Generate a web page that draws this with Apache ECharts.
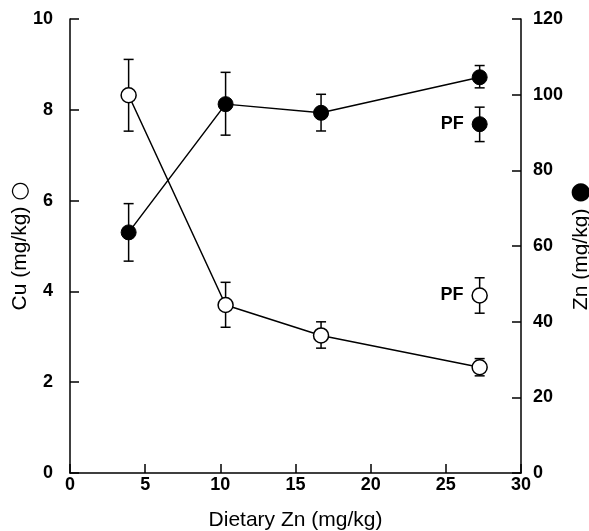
<!DOCTYPE html>
<html><head><meta charset="utf-8">
<script src="https://cdn.jsdelivr.net/npm/echarts@6/dist/echarts.min.js"></script>
<style>html,body{margin:0;padding:0;background:#fff}#c{width:589px;height:531px}</style>
</head><body><div id="c"></div>
<script>
// Data
var doseX = [3.9, 10.35, 16.7, 27.25];
var cuMean = [8.32, 3.70, 3.03, 2.33];
var cuLow = [7.53, 3.21, 2.75, 2.14];
var cuHigh = [9.11, 4.20, 3.33, 2.52];
var znMean = [63.6, 97.5, 95.2, 104.6];
var znLow = [56.0, 89.3, 90.4, 101.8];
var znHigh = [71.2, 105.9, 100.1, 107.7];
var pfX = [27.25];
var pfCu = [3.91], pfCuLow = [3.52], pfCuHigh = [4.30];
var pfZn = [92.2], pfZnLow = [87.6], pfZnHigh = [96.7];
var xTicks = [0, 5, 10, 15, 20, 25, 30];
var cuTicks = [0, 2, 4, 6, 8, 10];
var znTicks = [0, 20, 40, 60, 80, 100, 120];

var FONT = '"Liberation Sans", Arial, sans-serif';
function pairs(xs, ys){ return xs.map(function(x,i){ return [x, ys[i]]; }); }
function errData(xs, lo, hi){ return xs.map(function(x,i){ return [x, lo[i], hi[i]]; }); }
function errRender(params, api){
  var x = api.value(0);
  var p1 = api.coord([x, api.value(1)]);
  var p2 = api.coord([x, api.value(2)]);
  var w = 5;
  var st = {stroke:'#000', lineWidth:1.5};
  return {type:'group', children:[
    {type:'line', shape:{x1:p1[0], y1:p1[1], x2:p2[0], y2:p2[1]}, style:st},
    {type:'line', shape:{x1:p1[0]-w, y1:p1[1], x2:p1[0]+w, y2:p1[1]}, style:st},
    {type:'line', shape:{x1:p2[0]-w, y1:p2[1], x2:p2[0]+w, y2:p2[1]}, style:st}
  ]};
}
var axisCommon = {
  axisLine:{show:true, lineStyle:{color:'#000', width:1.5}},
  axisTick:{show:true, inside:true, length:9, lineStyle:{color:'#000', width:1.5}},
  splitLine:{show:false},
  nameMoveOverlap:false,
  axisLabel:{color:'#000', fontFamily:FONT, fontWeight:'bold', fontSize:18}
};
function merge(a,b){ var o={}; for(var k in a)o[k]=a[k]; for(var k2 in b)o[k2]=b[k2]; return o; }
var pfLabel = {show:true, position:'left', distance:8, formatter:'PF', color:'#000', opacity:1,
  fontFamily:FONT, fontWeight:'bold', fontSize:18};

var chart = echarts.init(document.getElementById('c'), null, {renderer:'canvas'});
chart.setOption({
  animation:false,
  backgroundColor:'#fff',
  grid:{left:70, right:68, top:19, bottom:58, containLabel:false, outerBoundsMode:'none'},
  xAxis: merge(axisCommon, {
    type:'value', min:xTicks[0], max:xTicks[xTicks.length-1], interval:5,
    axisLabel: merge(axisCommon.axisLabel, {margin:3}),
    name:'Dietary Zn (mg/kg)', nameLocation:'middle', nameGap:37,
    nameTextStyle:{color:'#000', fontFamily:FONT, fontSize:21}
  }),
  yAxis:[
    merge(axisCommon, {
      type:'value', position:'left', min:cuTicks[0], max:cuTicks[cuTicks.length-1], interval:2,
      axisLabel: merge(axisCommon.axisLabel, {margin:17}),
      name:'Cu (mg/kg) {s|○}', nameLocation:'middle', nameGap:39, nameRotate:90,
      nameTextStyle:{color:'#000', fontFamily:FONT, fontSize:21, rich:{s:{fontSize:22, color:'#000', fontFamily:'"DejaVu Sans"'}}}
    }),
    merge(axisCommon, {
      type:'value', position:'right', min:znTicks[0], max:znTicks[znTicks.length-1], interval:20,
      axisLabel: merge(axisCommon.axisLabel, {margin:12}),
      name:'Zn (mg/kg) {s|●}', nameLocation:'middle', nameGap:48, nameRotate:90,
      nameTextStyle:{color:'#000', fontFamily:FONT, fontSize:21, rich:{s:{fontSize:24, color:'#000', fontFamily:'"DejaVu Sans"'}}}
    })
  ],
  series:[
    {type:'custom', xAxisIndex:0, yAxisIndex:0, renderItem:errRender, data:errData(doseX, cuLow, cuHigh), z:1, silent:true},
    {type:'custom', xAxisIndex:0, yAxisIndex:1, renderItem:errRender, data:errData(doseX, znLow, znHigh), z:1, silent:true},
    {type:'custom', xAxisIndex:0, yAxisIndex:0, renderItem:errRender, data:errData(pfX, pfCuLow, pfCuHigh), z:1, silent:true},
    {type:'custom', xAxisIndex:0, yAxisIndex:1, renderItem:errRender, data:errData(pfX, pfZnLow, pfZnHigh), z:1, silent:true},
    {type:'line', yAxisIndex:0, data:pairs(doseX, cuMean), symbol:'circle', symbolSize:15, z:3,
      lineStyle:{color:'#000', width:1.5}, itemStyle:{color:'#fff', borderColor:'#000', borderWidth:1.5, opacity:1}},
    {type:'line', yAxisIndex:1, data:pairs(doseX, znMean), symbol:'circle', symbolSize:15, z:3,
      lineStyle:{color:'#000', width:1.5}, itemStyle:{color:'#000', borderColor:'#000', borderWidth:1, opacity:1}},
    {type:'scatter', yAxisIndex:0, data:pairs(pfX, pfCu), symbol:'circle', symbolSize:15, z:3,
      itemStyle:{color:'#fff', borderColor:'#000', borderWidth:1.5, opacity:1}, label:pfLabel},
    {type:'scatter', yAxisIndex:1, data:pairs(pfX, pfZn), symbol:'circle', symbolSize:15, z:3,
      itemStyle:{color:'#000', borderColor:'#000', borderWidth:1, opacity:1}, label:pfLabel}
  ]
});
</script></body></html>
